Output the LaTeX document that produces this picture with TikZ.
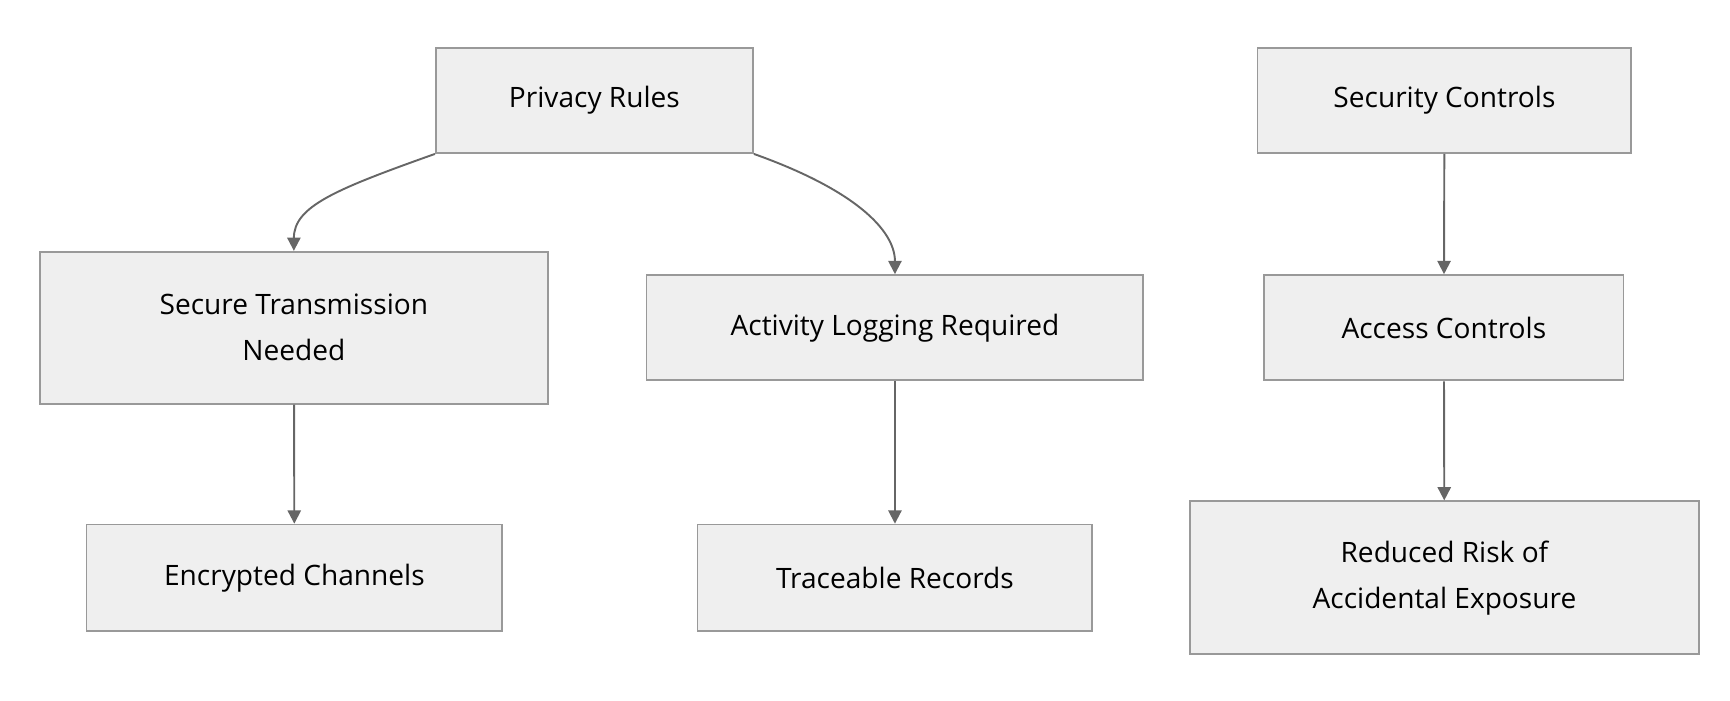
\documentclass[tikz,border=0pt]{standalone}
\usepackage{fontspec}
\setmainfont{Open Sans}
\usetikzlibrary{arrows.meta, positioning}
\definecolor{boxfill}{HTML}{EFEFEF}
\definecolor{boxline}{HTML}{999999}
\definecolor{arrowcol}{HTML}{666666}
\tikzset{
  box/.style={draw=boxline, fill=boxfill, line width=1.2pt, align=center,
    font=\fontsize{19}{31}\selectfont, inner sep=0pt},
  link/.style={draw=arrowcol, line width=1.3pt, -{Triangle[length=9pt,width=9pt]}}
}
\begin{document}
\begin{tikzpicture}[x=0.75pt, y=-0.75pt]
\useasboundingbox (0,0) rectangle (1560,632);
% top row
\node[box, minimum width=286*0.75pt, minimum height=95*0.75pt] (privacy) at (536,90.5) {Privacy Rules};
\node[box, minimum width=337*0.75pt, minimum height=95*0.75pt] (security) at (1302.5,90.5) {Security Controls};
% middle row
\node[box, minimum width=458*0.75pt, minimum height=137*0.75pt] (secure) at (265,295.5) {Secure Transmission\\Needed};
\node[box, minimum width=448*0.75pt, minimum height=95*0.75pt] (logging) at (807,295.5) {Activity Logging Required};
\node[box, minimum width=324*0.75pt, minimum height=95*0.75pt] (access) at (1302,295.5) {Access Controls};
% bottom row
\node[box, minimum width=375*0.75pt, minimum height=96*0.75pt] (encrypted) at (265.5,521) {Encrypted Channels};
\node[box, minimum width=356*0.75pt, minimum height=96*0.75pt] (traceable) at (807,521) {Traceable Records};
\node[box, minimum width=459*0.75pt, minimum height=138*0.75pt] (reduced) at (1302.5,521) {Reduced Risk of\\Accidental Exposure};
% connectors
\draw[link] (privacy.south west) .. controls +(-90,32) and +(0,-40) .. (secure.north);
\draw[link] (privacy.south east) .. controls +(90,32) and +(0,-40) .. (logging.north);
\draw[link] (secure) -- (encrypted);
\draw[link] (logging) -- (traceable);
\draw[link] (security) -- (access);
\draw[link] (access) -- (reduced);
\end{tikzpicture}
\end{document}
